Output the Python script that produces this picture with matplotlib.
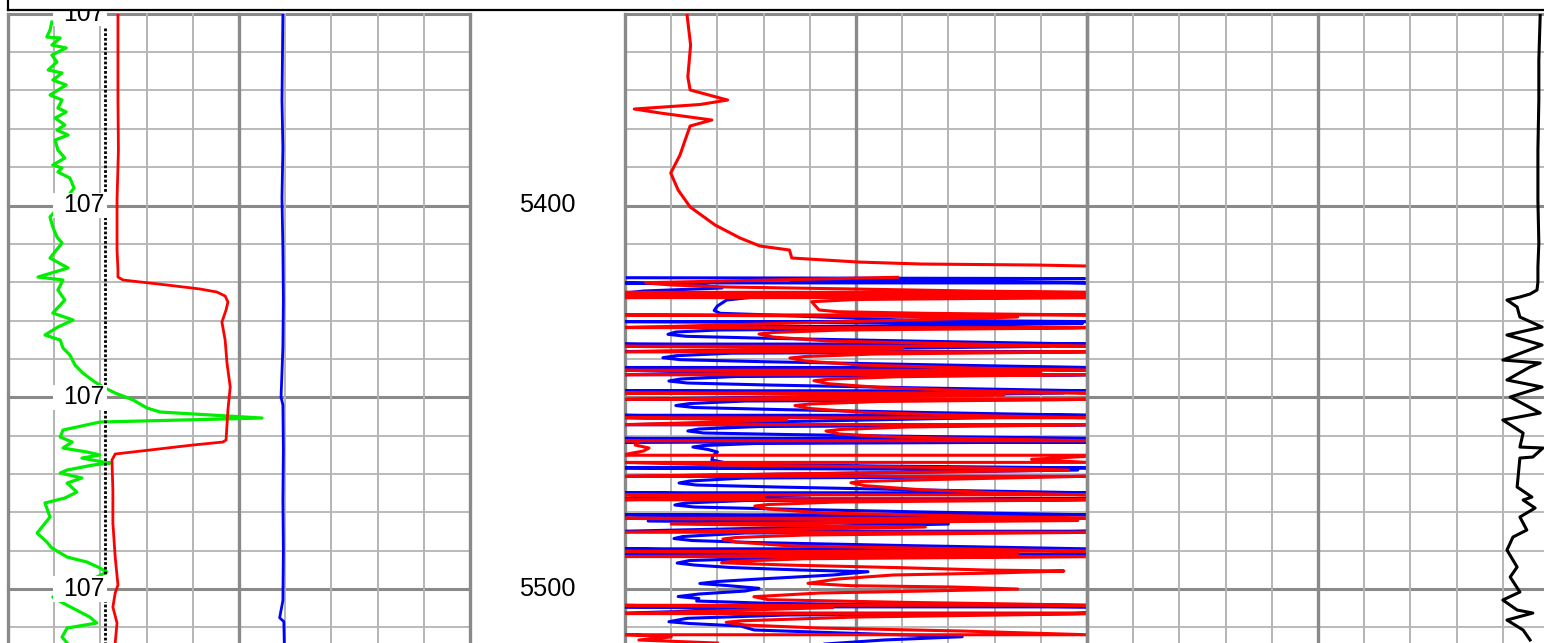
import numpy as np
import matplotlib
matplotlib.use("Agg")
import matplotlib.pyplot as plt
from matplotlib.lines import Line2D
from matplotlib.patches import Rectangle

plt.rcParams['font.family'] = ['Liberation Sans', 'DejaVu Sans']

# ---- data (depth, value in track divisions 0..10) ----
top_depth = 5350.0
depth_labels = [5400, 5500]
ref_labels = [5350, 5400, 5450, 5500]
ref_text = "107"

# track 1: green
gr_depth = [5352.15, 5354.24, 5356.07, 5356.33, 5358.15, 5358.93, 5360.76, 5362.58, 5364.67, 5365.45,
            5367.28, 5368.58, 5371.19, 5372.50, 5374.58, 5375.62, 5377.19, 5379.01, 5380.32, 5381.62,
            5382.93, 5385.53, 5387.62, 5389.44, 5390.22, 5391.27, 5392.83, 5395.44, 5398.57, 5403.00,
            5405.61, 5408.22, 5409.78, 5413.69, 5416.30, 5418.65, 5419.43, 5422.04, 5424.65, 5428.04,
            5429.86, 5431.69, 5433.77, 5435.08, 5437.16, 5438.99, 5441.60, 5443.68, 5446.03, 5447.59,
            5448.90, 5450.72, 5452.81, 5453.85, 5455.42, 5456.46, 5458.55, 5460.37, 5461.68, 5463.24,
            5464.28, 5465.06, 5465.85, 5466.89, 5467.15, 5467.67, 5468.98, 5469.76, 5471.06, 5472.37,
            5474.72, 5476.28, 5477.58, 5481.23, 5485.41, 5487.75, 5489.32, 5491.67, 5492.97, 5494.53,
            5495.58, 5498.97, 5502.09, 5503.66, 5507.31, 5508.87, 5510.18, 5512.52, 5514.09]
gr_value = [0.95, 0.91, 0.84, 1.13, 0.95, 1.26, 0.95, 1.06, 0.87, 1.17,
            0.97, 1.26, 0.91, 1.17, 1.08, 1.26, 1.02, 1.23, 1.06, 1.30,
            1.02, 1.08, 1.23, 0.97, 1.17, 1.08, 1.34, 1.43, 1.23, 0.91,
            0.97, 1.06, 1.17, 0.91, 1.30, 0.65, 1.19, 1.08, 1.23, 0.97,
            1.41, 1.08, 0.80, 1.13, 1.19, 1.34, 1.45, 1.62, 1.88, 2.10,
            2.32, 2.71, 3.01, 3.29, 5.50, 1.99, 1.19, 1.13, 1.39, 1.19,
            1.71, 1.99, 1.60, 2.06, 2.21, 1.84, 1.28, 1.13, 1.60, 1.28,
            1.49, 1.23, 0.80, 0.91, 0.63, 0.84, 0.95, 1.28, 1.71, 1.99,
            2.14, 1.56, 0.97, 1.19, 1.77, 1.92, 1.28, 1.17, 1.28]

# track 1: red
r1_depth = [5350.07, 5372.50, 5385.53, 5398.57, 5411.61, 5416.82, 5418.65, 5419.43, 5420.73, 5421.78,
            5422.56, 5423.60, 5425.16, 5427.25, 5430.38, 5435.08, 5441.07, 5447.33, 5453.33, 5457.24,
            5461.15, 5461.68, 5462.46, 5463.76, 5464.80, 5466.37, 5474.19, 5482.79, 5491.66, 5498.96,
            5501.05, 5504.70, 5508.87, 5514.09]
r1_value = [2.38, 2.38, 2.39, 2.36, 2.36, 2.38, 2.38, 2.49, 3.44, 4.16,
            4.52, 4.70, 4.76, 4.72, 4.63, 4.70, 4.74, 4.81, 4.76, 4.74,
            4.72, 4.65, 4.00, 3.07, 2.32, 2.25, 2.27, 2.27, 2.32, 2.38,
            2.32, 2.27, 2.36, 2.32]

# track 1: blue
b1_depth = [5350.07, 5362.0, 5372.5, 5385.0, 5398.0, 5411.0, 5424.6, 5437.0, 5450.0, 5452.0,
            5463.7, 5476.8, 5489.8, 5503.0, 5507.5, 5508.5, 5514.1]
b1_value = [5.95, 5.94, 5.93, 5.95, 5.93, 5.95, 5.96, 5.95, 5.91, 5.95,
            5.96, 5.95, 5.96, 5.95, 5.88, 5.97, 5.98]

# track 1: dotted reference
dot_depth = [5353.7, 5514.1]
dot_value = [2.11, 2.11]

# track 2: red (unwrapped values, wrap every 10 divisions)
r2_depth = [5350.01, 5358.15, 5366.49, 5369.88, 5372.50, 5373.67, 5374.84, 5375.88, 5377.71, 5379.27,
            5381.62, 5386.84, 5391.53, 5395.96, 5400.39, 5405.09, 5408.48, 5410.56, 5411.61, 5413.69,
            5414.74, 5415.26, 5415.52, 5415.78, np.nan,
            5418.72, 5420.13, 5420.73, 5421.25, 5421.78, 5422.30, 5422.69, 5423.08, 5423.47, 5423.99,
            5424.51, 5425.09, 5427.25, 5427.70, 5428.11, 5428.56, 5429.08, 5431.95, 5432.47, 5433.12,
            5433.51, 5434.29, 5435.34, 5436.12, 5436.77, 5437.29, 5438.21, 5438.73, 5439.38, 5439.77,
            5440.55, 5441.60, 5442.38, 5443.03, 5443.55, 5444.13, 5444.65, 5445.30, 5445.69, 5446.47,
            5447.51, 5448.30, 5448.95, 5449.47, 5450.59, 5451.11, 5451.76, 5452.16, 5452.94, 5453.98,
            5454.76, 5455.42, 5455.94, 5457.24, 5457.76, 5458.41, 5458.81, 5459.59, 5460.37, 5460.89,
            5461.42, 5462.46, 5463.24, 5464.02, 5464.80, 5465.45, 5466.18, 5467.02, 5467.67, 5468.45,
            5468.98, 5470.02, 5470.67, 5471.45, 5471.97, 5472.29, 5473.07, 5474.11, 5474.89, 5475.54,
            5476.07, 5476.80, 5477.32, 5477.97, 5478.36, 5479.14, 5480.19, 5480.97, 5481.62, 5482.14,
            5483.06, 5483.84, 5485.27, 5485.92, 5486.57, 5486.97, 5487.75, 5488.79, 5489.58, 5490.23,
            5490.75, 5491.58, 5492.11, 5492.76, 5493.15, 5493.75, 5494.45, 5495.05, 5495.31, 5495.83,
            5496.35, 5497.40, 5498.52, 5499.14, 5499.48, 5500.01, 5500.53, 5501.05, 5502.01, 5502.79,
            5503.47, 5503.92, 5504.31, 5504.83, 5506.52, 5507.31, 5508.30, 5508.69, 5509.39, 5510.17,
            5510.96, 5512.00, 5512.52, 5513.30, 5514.09]
r2_value = [1.34, 1.42, 1.36, 1.41, 2.22, 1.62, 0.20, 0.76, 1.88, 1.41,
            1.34, 1.19, 0.99, 1.15, 1.41, 1.95, 2.49, 2.92, 3.56, 3.61,
            5.04, 6.41, 8.90, 9.99, np.nan,
            15.9, 10.45, 11.0, 12.2, 15.0, 17.5, 20.3, 21.5, 19.6, 10.3,
            5.0, 4.04, 4.2, 4.6, 6.5, 10.2, 18.5, 9.7, 4.7, 3.2,
            2.9, 3.2, 4.4, 7.5, 10.3, 16.0, 9.7, 5.4, 3.9, 3.57,
            3.9, 5.1, 7.5, 10.3, 19.0, 9.7, 5.9, 4.4, 4.09, 4.4,
            5.6, 7.5, 10.3, 18.2, 9.7, 5.5, 4.0, 3.68, 4.0, 5.2,
            7.5, 10.3, 13.5, 9.7, 6.1, 4.65, 4.35, 4.65, 5.8, 8.0,
            10.3, 10.22, 10.52, 10.4, 10.05, 9.95, 8.8, 10.05, 12.06, 17.8,
            19.6, 13.3, 9.7, 6.7, 5.1, 4.89, 5.2, 6.4, 8.0, 10.3,
            13.0, 9.7, 4.6, 3.1, 2.81, 3.1, 4.3, 7.5, 10.3, 19.8,
            11.0, 16.5, 9.7, 3.9, 2.4, 2.12, 2.4, 3.6, 7.5, 10.3,
            18.5, 9.7, 3.9, 2.4, 2.09, 3.5, 6.0, 7.8, 9.5, 8.0,
            5.8, 4.6, 3.96, 4.9, 7.1, 8.5, 6.5, 4.2, 2.79, 3.1,
            6.0, 8.5, 10.3, 14.5, 9.7, 5.0, 2.5, 2.19, 2.6, 4.2,
            7.3, 10.2, 11.0, 10.3, 12.0]

# track 2: blue (unwrapped values)
b2_depth = [5418.83, 5419.06, 5419.69, 5420.08, 5420.60, 5421.51, 5422.30, 5422.95, 5423.16, 5423.78,
            5424.65, 5426.21, 5427.38, 5428.11, 5428.56, 5429.00, 5429.86, 5430.30, 5430.77, 5431.42,
            5431.81, 5432.47, 5432.99, 5433.59, 5434.11, 5434.63, 5435.41, 5436.20, 5436.72, 5438.12,
            5438.51, 5439.17, 5439.69, 5440.21, 5440.73, 5441.51, 5442.30, 5442.82, 5444.20, 5444.59,
            5445.24, 5445.77, 5446.29, 5446.81, 5447.59, 5448.38, 5448.90, 5450.59, 5450.98, 5451.64,
            5452.16, 5452.68, 5453.20, 5453.98, 5454.76, 5455.28, 5457.24, 5457.63, 5458.28, 5458.80,
            5459.32, 5459.72, 5460.24, 5460.76, 5461.28, 5461.68, 5462.06, 5462.59, 5462.98, 5463.63,
            5464.28, 5465.32, 5466.37, 5466.89, 5467.41, 5467.93, 5468.45, 5468.98, 5470.67, 5471.06,
            5471.84, 5472.36, 5472.89, 5473.41, 5474.19, 5474.97, 5475.49, 5476.54, 5476.93, 5477.58,
            5478.10, 5478.62, 5479.14, 5479.93, 5480.71, 5481.23, 5482.27, 5483.06, 5485.01, 5485.40,
            5486.32, 5486.84, 5487.36, 5487.88, 5488.66, 5489.57, 5489.97, 5491.14, 5491.66, 5492.57,
            5493.23, 5493.75, 5494.40, 5495.05, 5495.49, 5496.35, 5497.40, 5498.05, 5498.57, 5499.09,
            5499.82, 5500.53, 5501.31, 5501.96, 5502.48, 5503.13, 5503.73, 5504.17, 5504.70, 5505.22,
            5506.39, 5506.78, 5507.64, 5508.53, 5509.00, 5509.65, 5510.69, 5511.55, 5512.44, 5513.30,
            5514.61]
b2_value = [0.05, 9.95, 3.6, 9.6, 11.5, 12.1, 10.4, 9.9, 9.6, 2.86,
            2.2, 2.0, 1.93, 2.06, 3.2, 4.07, 6.0, 10.2, 19.9, 15.5,
            9.8, 2.0, 1.1, 0.93, 1.33, 3.1, 6.5, 10.3, 19.2, 9.7,
            2.3, 1.1, 0.82, 1.2, 3.0, 6.5, 10.3, 14.5, 9.7, 2.4,
            1.2, 0.95, 1.35, 3.1, 6.5, 10.3, 19.5, 9.7, 2.6, 1.4,
            1.10, 1.5, 3.3, 6.5, 10.3, 18.0, 9.7, 2.9, 1.6, 1.36,
            1.7, 3.5, 6.5, 10.3, 16.9, 9.7, 2.8, 1.7, 1.47, 1.8,
            2.0, 1.9, 1.88, 2.1, 2.27, 5.5, 10.3, 19.8, 9.7, 2.6,
            1.4, 1.17, 1.55, 3.3, 6.5, 10.3, 14.0, 9.7, 2.6, 1.3,
            1.08, 1.5, 3.3, 6.5, 10.3, 19.5, 10.5, 17.0, 9.7, 2.6,
            1.25, 1.06, 1.45, 2.8, 6.0, 10.2, 12.0, 9.7, 3.9, 1.4,
            1.13, 1.5, 2.3, 3.8, 5.26, 4.5, 2.9, 2.0, 1.62, 2.2,
            2.9, 2.6, 1.6, 1.15, 1.6, 1.55, 3.1, 6.0, 10.3, 13.0,
            9.7, 3.5, 1.35, 0.95, 1.4, 2.5, 2.8, 4.9, 7.3, 5.6,
            4.0]

# track 3: black
k3_depth = [5350.07, 5362.06, 5372.50, 5385.53, 5398.57, 5409.78, 5416.04, 5419.95, 5422.04, 5423.08,
            5423.86, 5424.65, 5426.47, 5429.08, 5431.69, 5433.77, 5436.38, 5440.29, 5441.07, 5442.11,
            5445.50, 5447.33, 5449.94, 5454.11, 5455.94, 5459.33, 5462.98, 5463.24, 5465.59, 5465.85,
            5473.41, 5476.02, 5476.80, 5478.88, 5481.23, 5484.62, 5486.45, 5489.84, 5494.27, 5496.88,
            5500.79, 5502.87, 5505.48, 5506.27, 5508.09, 5510.70, 5513.30]
k3_value = [9.81, 9.78, 9.78, 9.76, 9.76, 9.78, 9.76, 9.76, 9.74, 9.59,
            9.37, 9.09, 9.31, 9.37, 9.85, 9.09, 9.85, 9.00, 9.81, 9.59,
            9.09, 9.85, 9.16, 9.81, 9.00, 9.44, 9.37, 9.87, 9.65, 9.37,
            9.31, 9.63, 9.44, 9.70, 9.37, 9.52, 9.22, 9.09, 9.31, 9.16,
            9.37, 9.00, 9.31, 9.65, 9.09, 9.44, 9.59]


def wrap(depth, value, span=10.0):
    """Wrap-around display of a curve, like a log plot backup scale."""
    d_out, v_out = [], []
    for i in range(len(depth)):
        d1, v1 = depth[i], value[i]
        if i > 0 and not (np.isnan(v1) or np.isnan(value[i - 1])):
            d0, v0 = depth[i - 1], value[i - 1]
            k0, k1 = np.floor(v0 / span), np.floor(v1 / span)
            if k1 > k0:
                for k in np.arange(k0 + 1, k1 + 1):
                    dc = d0 + (k * span - v0) / (v1 - v0) * (d1 - d0)
                    d_out += [dc, dc]
                    v_out += [span, 0.0]
            elif k1 < k0:
                for k in np.arange(k0, k1, -1):
                    dc = d0 + (k * span - v0) / (v1 - v0) * (d1 - d0)
                    d_out += [dc, dc]
                    v_out += [0.0, span]
        d_out.append(d1)
        v_out.append(np.nan if np.isnan(v1) else v1 - np.floor(v1 / span) * span)
    return d_out, v_out


# ---- layout ----
W, H = 1544, 643
px_per_unit = 3.835
top_px = 13.75
bot_depth = top_depth + (H - top_px) / px_per_unit

fig = plt.figure(figsize=(W / 100, H / 100), dpi=100)
fig.patch.set_facecolor('white')


def track(x0, x1, grid=True):
    ax = fig.add_axes([x0 / W, 0, (x1 - x0) / W, (H - top_px) / H])
    ax.set_xlim(0, 10)
    ax.set_ylim(bot_depth, top_depth)
    ax.axis('off')
    if grid:
        for d in np.arange(5350, 5520, 10):
            thick = d % 50 == 0
            ax.axhline(d, color='#8a8a8a' if thick else '#b4b4b4',
                       lw=2.2 if thick else 1.3, zorder=1, clip_on=False)
        for x in range(11):
            thick = x % 5 == 0
            ax.axvline(x, color='#8a8a8a' if thick else '#b4b4b4',
                       lw=2.4 if thick else 1.4, zorder=1, clip_on=False)
    return ax


ax1 = track(8, 470)
axd = track(470, 625, grid=False)
ax2 = track(625, 1087)
ax3 = track(1087, 1549)

# track 1
ax1.plot(gr_value, gr_depth, color='#00ee00', lw=2.3, zorder=3)
ax1.plot(r1_value, r1_depth, color='red', lw=2.0, zorder=3)
ax1.plot(b1_value, b1_depth, color='blue', lw=2.0, zorder=3)
ax1.plot(dot_value, dot_depth, color='black', lw=2.0, ls=(0, (1.0, 0.7)), zorder=3)
for d in ref_labels:
    ax1.add_patch(Rectangle((0.97, d - 3.3), 1.18, 6.6, facecolor='white',
                            edgecolor='none', zorder=5, clip_on=False))
    ax1.text(1.645, d, ref_text, fontsize=17.8, ha='center', va='center', zorder=6)

# depth track
for d in depth_labels:
    axd.text(0.5, d, str(d), fontsize=18.3, ha='center', va='center',
             transform=axd.get_yaxis_transform())

# track 2
rd, rv = wrap(r2_depth, r2_value)
bd, bv = wrap(b2_depth, b2_value)
ax2.plot(bv, bd, color='blue', lw=2.2, zorder=3)
ax2.plot(rv, rd, color='red', lw=2.2, zorder=4)

# track 3
ax3.plot(k3_value, k3_depth, color='black', lw=2.2, zorder=3)

# header box
fig.add_artist(Rectangle((8 / W, 1 - 10 / H), 1.0, 10 / H, facecolor='white',
                         edgecolor='none', zorder=10))
fig.add_artist(Line2D([8 / W, 1.0], [1 - 10 / H, 1 - 10 / H], color='black', lw=1.6, zorder=11))
fig.add_artist(Line2D([8 / W, 8 / W], [1 - 10 / H, 1.0], color='black', lw=1.6, zorder=11))

fig.savefig('out.png', dpi=100, facecolor='white')
